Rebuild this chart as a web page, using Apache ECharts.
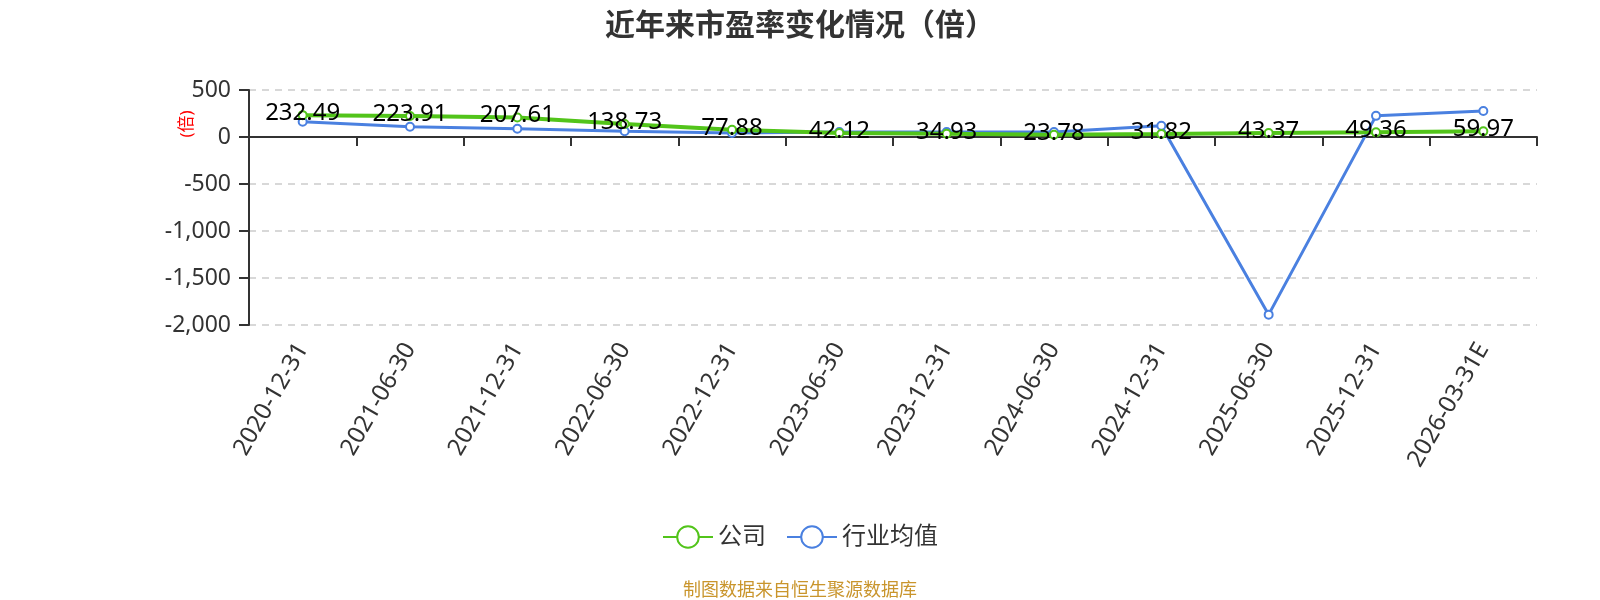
<!DOCTYPE html>
<html>
<head>
<meta charset="utf-8">
<script src="https://cdn.jsdelivr.net/npm/echarts@6/dist/echarts.min.js"></script>
<style>html,body{margin:0;padding:0;background:#fff}#c{width:1600px;height:600px}</style>
</head>
<body>
<div id="c"></div>
<script>
const categories = ['2020-12-31','2021-06-30','2021-12-31','2022-06-30','2022-12-31','2023-06-30','2023-12-31','2024-06-30','2024-12-31','2025-06-30','2025-12-31','2026-03-31E'];
const companyPE = [232.49,223.91,207.61,138.73,77.88,42.12,34.93,23.78,31.82,43.37,49.36,59.97];
const industryPE = [163,109,87,62,43,54,54,54,120,-1890,225,277];
const yMin = -2000, yMax = 500, yInterval = 500;

const font = "'Noto Sans','Noto Sans CJK SC',sans-serif";
const chart = echarts.init(document.getElementById('c'));
chart.setOption({
  animation: false,
  textStyle: { fontFamily: font },
  title: {
    text: '近年来市盈率变化情况（倍）',
    left: 'center', top: 6,
    textStyle: { fontSize: 30, fontWeight: 'bold', color: '#333', fontFamily: font }
  },
  legend: {
    top: 520, left: 'center',
    itemWidth: 50, itemHeight: 27, itemGap: 20,
    textStyle: { fontSize: 24, color: '#333', fontFamily: font },
    data: ['公司','行业均值']
  },
  grid: { left: 249, right: 63, top: 90, bottom: 275 },
  xAxis: [
    {
      type: 'category', data: categories, position: 'bottom',
      axisLine: { show: false, onZero: false }, axisTick: { show: false },
      axisLabel: { rotate: 60, fontSize: 24, color: '#333', margin: 20, interval: 0, fontFamily: font }
    },
    {
      type: 'category', data: categories, position: 'top',
      axisLine: { show: true, onZero: true, lineStyle: { color: '#333', width: 2 } },
      axisTick: { show: true, inside: true, length: 9, lineStyle: { color: '#333', width: 2 } },
      axisLabel: { show: false }, splitLine: { show: false }
    }
  ],
  yAxis: {
    type: 'value', min: yMin, max: yMax, interval: yInterval,
    axisLine: { show: true, lineStyle: { color: '#333', width: 2 } },
    axisTick: { show: true, length: 10, lineStyle: { color: '#333', width: 2 } },
    axisLabel: { fontSize: 23, color: '#333', margin: 18, fontFamily: font,
      formatter: v => v.toLocaleString('en-US') },
    splitLine: { show: true, lineStyle: { type: [7, 6], color: '#ccc', width: 1.5 } }
  },
  graphic: [
    { type: 'text', x: 187, y: 124, rotation: Math.PI / 2,
      style: { text: '(倍)', fill: '#f00', fontSize: 17, fontFamily: font, align: 'center', verticalAlign: 'middle' } },
    { type: 'text', left: 'center', top: 582,
      style: { text: '制图数据来自恒生聚源数据库', fill: '#c9952c', fontSize: 18, fontFamily: font } }
  ],
  series: [
    {
      name: '公司', type: 'line', data: companyPE, xAxisIndex: 0,
      symbol: 'emptyCircle', symbolSize: 8,
      lineStyle: { width: 4, color: '#52c41a' },
      itemStyle: { color: '#52c41a', borderWidth: 2 },
      label: { show: true, position: 'top', distance: -15, color: '#000', fontSize: 24, fontFamily: font },
      z: 4
    },
    {
      name: '行业均值', type: 'line', data: industryPE, xAxisIndex: 0,
      symbol: 'emptyCircle', symbolSize: 8,
      lineStyle: { width: 3, color: '#4a80e0' },
      itemStyle: { color: '#4a80e0', borderWidth: 2 },
      label: { show: false },
      z: 3
    }
  ]
});
</script>
</body>
</html>
